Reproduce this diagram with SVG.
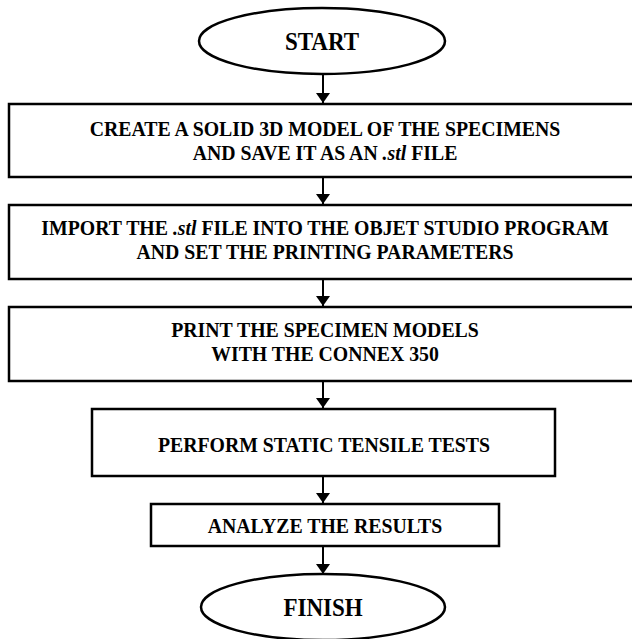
<svg xmlns="http://www.w3.org/2000/svg" width="632" height="639" viewBox="0 0 632 639">
  <style>
    .shape { fill: #ffffff; stroke: #000000; stroke-width: 2.5; }
    .conn { stroke: #000000; stroke-width: 2; fill: none; }
    .t { font-family: "Liberation Serif", "Times New Roman", serif; font-weight: bold; font-size: 22px; text-anchor: middle; fill: #000000; }
    .big { font-size: 25px; }
    .it { font-style: italic; }
  </style>
  <defs>
    <marker id="arr" viewBox="0 0 10 14" refX="10" refY="7" markerWidth="10" markerHeight="14" markerUnits="userSpaceOnUse" orient="auto">
      <path d="M0,0 L10,7 L0,14 Z" fill="#000000"/>
    </marker>
  </defs>
  <rect width="632" height="639" fill="#ffffff"/>

  <g id="connectors">
    <line class="conn" x1="323" y1="74" x2="323" y2="103" marker-end="url(#arr)"/>
    <line class="conn" x1="323" y1="178" x2="323" y2="204" marker-end="url(#arr)"/>
    <line class="conn" x1="323" y1="280" x2="323" y2="306" marker-end="url(#arr)"/>
    <line class="conn" x1="323" y1="382" x2="323" y2="408" marker-end="url(#arr)"/>
    <line class="conn" x1="323" y1="477" x2="323" y2="503" marker-end="url(#arr)"/>
    <line class="conn" x1="323" y1="547" x2="323" y2="574" marker-end="url(#arr)"/>
  </g>

  <g id="start">
    <ellipse class="shape" cx="322" cy="41" rx="123" ry="33"/>
    <text class="t big" transform="translate(322 50) scale(0.92 1)">START</text>
  </g>

  <g id="step1">
    <rect class="shape" x="9" y="104" width="630" height="73"/>
    <text class="t" transform="translate(325 136) scale(0.9 1)">CREATE A SOLID 3D MODEL OF THE SPECIMENS</text>
    <text class="t" transform="translate(325 160) scale(0.9 1)">AND SAVE IT AS AN <tspan class="it">.stl</tspan> FILE</text>
  </g>

  <g id="step2">
    <rect class="shape" x="9" y="205" width="630" height="74"/>
    <text class="t" transform="translate(325 235) scale(0.9 1)">IMPORT THE <tspan class="it">.stl</tspan> FILE INTO THE OBJET STUDIO PROGRAM</text>
    <text class="t" transform="translate(325 259) scale(0.9 1)">AND SET THE PRINTING PARAMETERS</text>
  </g>

  <g id="step3">
    <rect class="shape" x="9" y="307" width="630" height="74"/>
    <text class="t" transform="translate(325 337) scale(0.9 1)">PRINT THE SPECIMEN MODELS</text>
    <text class="t" transform="translate(325 361) scale(0.9 1)">WITH THE CONNEX 350</text>
  </g>

  <g id="step4">
    <rect class="shape" x="92" y="409" width="463" height="67"/>
    <text class="t" transform="translate(324 452) scale(0.9 1)">PERFORM STATIC TENSILE TESTS</text>
  </g>

  <g id="step5">
    <rect class="shape" x="151" y="504" width="348" height="42"/>
    <text class="t" transform="translate(325 533) scale(0.9 1)">ANALYZE THE RESULTS</text>
  </g>

  <g id="finish">
    <ellipse class="shape" cx="323" cy="607" rx="122" ry="33"/>
    <text class="t big" transform="translate(323 616) scale(0.92 1)">FINISH</text>
  </g>
</svg>
